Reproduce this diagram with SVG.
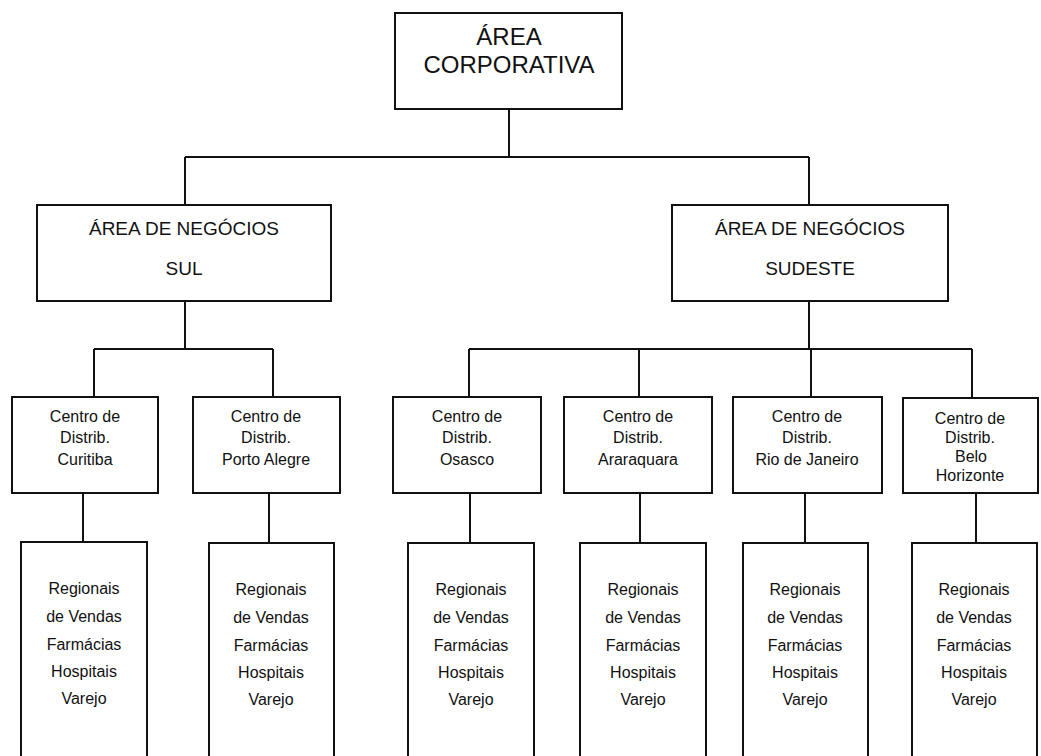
<svg xmlns="http://www.w3.org/2000/svg" width="1041" height="756" viewBox="0 0 1041 756">
<style>
.box{fill:#fff;stroke:#111;stroke-width:2}
.ln{fill:none;stroke:#111;stroke-width:2}
text{font-family:"Liberation Sans",Arial,sans-serif;fill:#111;text-anchor:middle}
.t1{font-size:24px}
.t2{font-size:19px}
.t3{font-size:16px}
</style>
<rect width="1041" height="756" fill="#fff"/>
<g id="connectors">
<path class="ln" d="M509 109V157M185 157H809M185 157V205M809 157V205"/>
<path class="ln" d="M185 301V349M94 349H273M94 349V397M273 349V397"/>
<path class="ln" d="M809 301V349M469 349H972M469 349V397M639 349V397M811 349V397M972 349V397"/>
<path class="ln" d="M83 493V543M269 493V543M470 493V543M640 493V543M805 493V543M976 493V543"/>
</g>
<g id="corp"><rect class="box" x="395" y="13" width="227" height="96"/><text class="t1" x="509" y="45">ÁREA</text><text class="t1" x="509" y="73">CORPORATIVA</text></g>
<g id="sul"><rect class="box" x="37" y="205" width="294" height="96"/><text class="t2" x="184" y="235">ÁREA DE NEGÓCIOS</text><text class="t2" x="184" y="275">SUL</text></g>
<g id="sudeste"><rect class="box" x="672" y="205" width="276" height="96"/><text class="t2" x="810" y="235">ÁREA DE NEGÓCIOS</text><text class="t2" x="810" y="275">SUDESTE</text></g>
<g id="cd-curitiba"><rect class="box" x="12" y="397" width="146" height="96"/><text class="t3" x="85" y="422">Centro de</text><text class="t3" x="85" y="443">Distrib.</text><text class="t3" x="85" y="465">Curitiba</text></g>
<g id="cd-porto"><rect class="box" x="193" y="397" width="147" height="96"/><text class="t3" x="266" y="422">Centro de</text><text class="t3" x="266" y="443">Distrib.</text><text class="t3" x="266" y="465">Porto Alegre</text></g>
<g id="cd-osasco"><rect class="box" x="393" y="397" width="148" height="96"/><text class="t3" x="467" y="422">Centro de</text><text class="t3" x="467" y="443">Distrib.</text><text class="t3" x="467" y="465">Osasco</text></g>
<g id="cd-araraquara"><rect class="box" x="564" y="397" width="148" height="96"/><text class="t3" x="638" y="422">Centro de</text><text class="t3" x="638" y="443">Distrib.</text><text class="t3" x="638" y="465">Araraquara</text></g>
<g id="cd-rio"><rect class="box" x="733" y="397" width="149" height="96"/><text class="t3" x="807" y="422">Centro de</text><text class="t3" x="807" y="443">Distrib.</text><text class="t3" x="807" y="465">Rio de Janeiro</text></g>
<g id="cd-belo"><rect class="box" x="903" y="398" width="135" height="95"/><text class="t3" x="970" y="424">Centro de</text><text class="t3" x="970" y="443">Distrib.</text><text class="t3" x="971" y="462">Belo</text><text class="t3" x="970" y="481">Horizonte</text></g>
<g id="rv-curitiba"><rect class="box" x="21" y="542" width="126" height="220"/><text class="t3" x="84" y="594">Regionais</text><text class="t3" x="84" y="622">de Vendas</text><text class="t3" x="84" y="650">Farmácias</text><text class="t3" x="84" y="677">Hospitais</text><text class="t3" x="84" y="704">Varejo</text></g>
<g id="rv-porto"><rect class="box" x="209" y="543" width="125" height="220"/><text class="t3" x="271" y="595">Regionais</text><text class="t3" x="271" y="623">de Vendas</text><text class="t3" x="271" y="651">Farmácias</text><text class="t3" x="271" y="678">Hospitais</text><text class="t3" x="271" y="705">Varejo</text></g>
<g id="rv-osasco"><rect class="box" x="408" y="543" width="126" height="220"/><text class="t3" x="471" y="595">Regionais</text><text class="t3" x="471" y="623">de Vendas</text><text class="t3" x="471" y="651">Farmácias</text><text class="t3" x="471" y="678">Hospitais</text><text class="t3" x="471" y="705">Varejo</text></g>
<g id="rv-araraquara"><rect class="box" x="580" y="543" width="126" height="220"/><text class="t3" x="643" y="595">Regionais</text><text class="t3" x="643" y="623">de Vendas</text><text class="t3" x="643" y="651">Farmácias</text><text class="t3" x="643" y="678">Hospitais</text><text class="t3" x="643" y="705">Varejo</text></g>
<g id="rv-rio"><rect class="box" x="743" y="543" width="125" height="220"/><text class="t3" x="805" y="595">Regionais</text><text class="t3" x="805" y="623">de Vendas</text><text class="t3" x="805" y="651">Farmácias</text><text class="t3" x="805" y="678">Hospitais</text><text class="t3" x="805" y="705">Varejo</text></g>
<g id="rv-belo"><rect class="box" x="912" y="543" width="125" height="220"/><text class="t3" x="974" y="595">Regionais</text><text class="t3" x="974" y="623">de Vendas</text><text class="t3" x="974" y="651">Farmácias</text><text class="t3" x="974" y="678">Hospitais</text><text class="t3" x="974" y="705">Varejo</text></g>
</svg>
